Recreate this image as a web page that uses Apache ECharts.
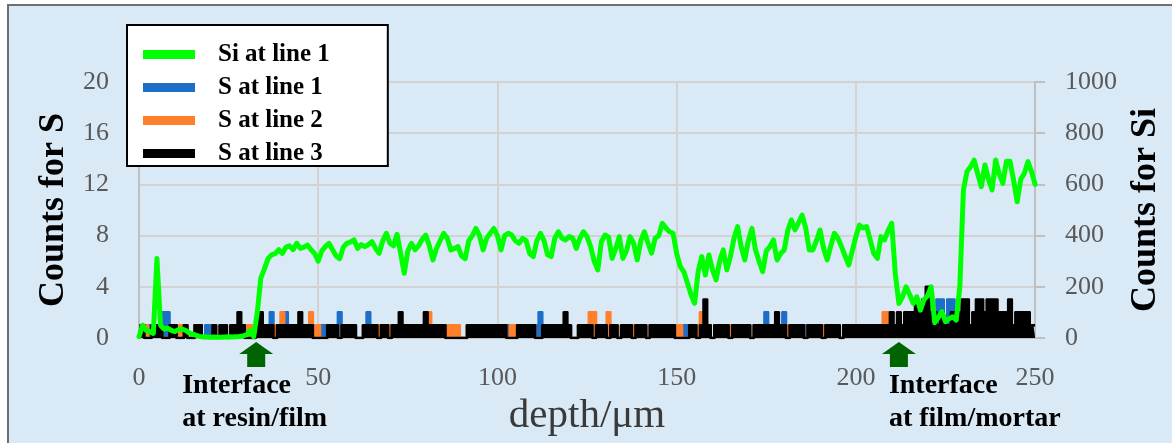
<!DOCTYPE html>
<html><head><meta charset="utf-8">
<script src="https://cdn.jsdelivr.net/npm/echarts@6/dist/echarts.min.js"></script>
<style>html,body{margin:0;padding:0;background:#fff}#c{width:1172px;height:443px}</style>
</head><body><div id="c"></div>
<script>
// ---- data ----
const depthStepUm = 1;                 // sample spacing along depth
const xTickValues = [0, 50, 100, 150, 200, 250];
const seriesNames = ['Si at line 1', 'S at line 1', 'S at line 2', 'S at line 3'];

const siLine1 = [
  5,50,30,25,18,311,50,35,38,30,
  25,32,35,30,20,15,10,6,5,4,
  3,4,3,3,4,5,4,5,6,8,
  12,30,5,100,235,270,310,325,330,345,
  330,355,360,345,370,350,355,363,345,330,
  300,340,357,370,345,320,310,355,370,375,
  383,350,365,357,365,376,350,331,380,409,
  370,360,405,330,253,340,370,344,360,385,
  402,360,305,350,380,409,390,344,350,357,
  320,310,380,400,428,400,344,390,409,428,
  400,344,400,409,402,380,370,389,380,330,
  318,380,409,380,325,318,390,415,390,383,
  396,390,350,390,415,396,357,300,266,376,
  402,395,311,350,396,311,340,396,370,305,
  380,415,370,331,390,400,448,430,415,409,
  330,279,259,215,170,136,260,318,246,324,
  266,227,300,344,266,318,390,435,357,305,
  380,428,344,300,259,340,357,383,305,330,
  344,420,461,422,450,480,430,344,344,380,
  422,350,305,360,409,390,357,320,285,340,
  396,441,430,435,383,330,311,396,383,420,
  448,250,135,160,200,170,135,161,109,150,
  165,200,60,80,103,64,75,83,70,200,
  578,650,669,695,640,591,676,620,578,695,
  640,604,690,690,617,532,620,643,689,650,600
];

const sLine1 = [
  1,1,0,1,1,1,1,2,2,1,
  1,0,0,1,0,0,1,1,0,1,
  1,1,0,1,1,0,1,1,1,1,
  0,0,0,1,1,1,1,2,0,1,
  1,2,1,1,1,1,1,1,1,0,
  0,1,1,1,1,1,2,1,1,1,
  1,0,0,1,2,1,1,0,1,1,
  0,1,1,1,1,1,1,1,1,1,
  1,1,1,1,1,1,0,0,0,0,
  0,0,1,1,1,1,1,1,1,1,
  1,1,1,1,0,0,1,1,1,1,
  1,1,2,1,1,1,1,1,1,1,
  1,0,0,1,1,1,1,1,1,1,
  1,1,1,1,0,1,1,1,0,1,
  1,1,0,1,1,1,1,1,1,1,
  0,0,1,1,1,1,0,1,1,1,
  0,1,1,1,1,0,1,1,1,1,
  1,0,1,1,1,2,1,1,1,1,
  2,0,1,1,1,1,1,1,1,1,
  1,0,1,1,1,1,0,1,1,1,
  1,1,1,1,1,1,1,1,1,1,
  1,1,1,1,1,1,1,1,1,1,
  1,1,1,3,3,1,3,3,1,1,
  1,1,1,1,1,1,1,1,1,1,
  1,1,1,1,1,1,1,1,1,1,1
];

const sLine2 = [
  0,1,1,0,1,1,1,0,0,1,
  1,1,1,1,0,0,1,1,0,0,
  0,1,0,1,1,0,1,1,1,1,
  1,1,0,1,1,1,1,1,1,1,
  2,1,1,1,1,1,1,1,2,1,
  1,0,0,1,1,1,0,1,1,1,
  1,0,0,1,1,1,1,1,1,1,
  1,1,1,1,1,1,1,1,1,1,
  1,2,1,1,1,1,1,1,1,1,
  0,0,1,1,1,1,1,1,1,1,
  1,1,1,0,1,1,1,1,1,1,
  1,0,0,1,1,1,1,1,1,1,
  1,0,0,1,1,1,2,2,1,1,
  1,2,1,1,0,1,1,1,1,1,
  1,1,0,1,1,1,1,1,1,1,
  1,1,0,0,1,1,1,2,1,1,
  0,1,1,1,1,1,1,1,1,1,
  1,0,1,1,1,1,1,1,1,1,
  1,1,1,1,1,1,0,1,1,1,
  1,1,1,1,1,1,0,1,1,1,
  1,1,1,1,1,1,1,1,2,2,
  1,1,1,1,1,1,1,1,1,1,
  1,1,1,1,1,1,1,1,1,1,
  1,1,1,1,1,1,1,1,1,1,
  1,1,1,1,1,1,1,1,1,1,1
];

const sLine3 = [
  0,1,0,0,1,1,1,0,0,1,
  1,0,0,1,0,0,1,1,0,0,
  0,1,0,1,1,0,1,1,2,1,
  0,0,0,1,2,1,1,1,0,1,
  1,1,1,1,1,2,1,1,1,0,
  0,0,0,1,1,1,0,1,1,1,
  1,0,0,1,1,1,1,0,1,1,
  0,1,1,2,1,1,1,1,1,1,
  2,1,1,1,1,1,0,0,0,0,
  0,0,1,1,1,1,1,1,1,1,
  1,1,1,0,0,0,1,1,1,1,
  1,0,0,1,1,1,1,1,1,2,
  1,0,0,1,1,1,1,0,1,1,
  1,0,1,1,0,1,1,1,0,1,
  1,1,0,1,1,1,1,1,1,1,
  0,0,0,0,1,1,0,1,3,1,
  0,1,1,1,1,0,1,1,1,1,
  1,0,1,1,1,1,1,1,2,1,
  1,0,1,1,1,1,0,1,1,1,
  1,0,1,1,1,1,0,1,1,1,
  1,1,1,1,1,1,1,1,1,1,
  2,1,2,1,2,2,2,3,2,3,
  4,2,2,1,2,1,1,2,2,2,
  3,3,1,2,3,3,2,3,3,3,
  2,2,2,3,1,2,2,2,2,1,1
];

const interfaceDepths = [32.7, 212];
const interfaceLabels = ['Interface\nat resin/film', 'Interface\nat film/mortar'];

// ---- chart ----
const FONT = 'Liberation Serif';
const toPairs = arr => arr.map((v, i) => [i * depthStepUm, v]);
const colors = { si: '#00ff00', s1: '#1c6ec8', s2: '#ff7f2a', s3: '#000000' };
const chart = echarts.init(document.getElementById('c'), null, { renderer: 'canvas' });

function sSeries(name, arr, color, z) {
  return {
    name, type: 'line', yAxisIndex: 0, data: toPairs(arr), step: 'middle', z,
    symbol: 'none', color, lineStyle: { width: 2.6, color, join: 'round' },
    areaStyle: { color, opacity: 1 }, animation: false
  };
}

const axisGray = '#bfbfbf';
const gridGray = '#d2d2d2';
const labelStyle = { color: '#595959', fontSize: 26, fontFamily: FONT, formatter: v => String(v) };

chart.setOption({
  animation: false,
  backgroundColor: '#ffffff',
  grid: { left: 139, right: 132, top: 82, bottom: 105 },
  legend: {
    data: [seriesNames[0], seriesNames[1], seriesNames[2], seriesNames[3]],
    orient: 'vertical', left: 127, top: 25,
    icon: 'rect', itemWidth: 52, itemHeight: 9, itemGap: 8,
    padding: [17, 58, 0, 16],
    backgroundColor: '#ffffff', borderColor: '#000000', borderWidth: 2,
    textStyle: { fontFamily: FONT, fontSize: 25, fontWeight: 'bold', color: '#000', lineHeight: 25, padding: [0, 0, 0, 18] }
  },
  xAxis: {
    type: 'value', min: xTickValues[0], max: xTickValues[xTickValues.length - 1],
    interval: xTickValues[1] - xTickValues[0],
    axisLine: { show: true, lineStyle: { color: axisGray, width: 2 } },
    axisTick: { show: false },
    axisLabel: Object.assign({ margin: 27 }, labelStyle),
    splitLine: { show: true, lineStyle: { color: gridGray, width: 2 } },
    name: 'depth/μm', nameLocation: 'middle', nameGap: 50,
    nameTextStyle: { fontFamily: FONT, fontSize: 41, color: '#3a3a3a' }
  },
  yAxis: [
    {
      type: 'value', min: 0, max: 20, interval: 4, position: 'left',
      axisLine: { show: true, lineStyle: { color: axisGray, width: 2 } },
      axisTick: { show: false },
      axisLabel: Object.assign({ margin: 30 }, labelStyle),
      splitLine: { show: true, lineStyle: { color: gridGray, width: 2 } },
      name: 'Counts for S', nameLocation: 'middle', nameRotate: 90, nameGap: 67,
      nameTextStyle: { fontFamily: FONT, fontSize: 36, fontWeight: 'bold', color: '#000' }
    },
    {
      type: 'value', min: 0, max: 1000, interval: 200, position: 'right',
      axisLine: { show: true, lineStyle: { color: axisGray, width: 2 } },
      axisTick: { show: true, length: 10, lineStyle: { color: axisGray, width: 2 } },
      axisLabel: Object.assign({ margin: 30 }, labelStyle),
      splitLine: { show: false },
      name: 'Counts for Si', nameLocation: 'middle', nameRotate: 90, nameGap: 86,
      nameTextStyle: { fontFamily: FONT, fontSize: 36, fontWeight: 'bold', color: '#000' }
    }
  ],
  series: [
    sSeries(seriesNames[1], sLine1, colors.s1, 2),
    sSeries(seriesNames[2], sLine2, colors.s2, 3),
    sSeries(seriesNames[3], sLine3, colors.s3, 4),
    {
      name: seriesNames[0], type: 'line', yAxisIndex: 1, data: toPairs(siLine1),
      symbol: 'none', color: colors.si,
      lineStyle: { width: 5, color: colors.si, join: 'round', cap: 'round' }, z: 6
    }
  ]
});

// frame + annotations placed through the axis scales
const textOffsets = [-74, -10];
const graphics = [{
  type: 'rect', z: -100, silent: true,
  shape: { x: 8, y: 5, width: 1200, height: 500 },
  style: { fill: '#d9e9f5', stroke: '#6f6f6f', lineWidth: 2 }
}];
interfaceDepths.forEach((d, i) => {
  const [px, py] = chart.convertToPixel({ xAxisIndex: 0, yAxisIndex: 0 }, [d, 0]);
  graphics.push({
    type: 'polygon', z: 100,
    shape: { points: [[px, py + 4], [px + 17, py + 16], [px + 9, py + 16], [px + 9, py + 29],
                      [px - 9, py + 29], [px - 9, py + 16], [px - 17, py + 16]] },
    style: { fill: '#006400' }
  });
  graphics.push({
    type: 'text', z: 100, x: px + textOffsets[i], y: py + 31,
    style: { text: interfaceLabels[i], fontFamily: FONT, fontSize: 28, fontWeight: 'bold',
             fill: '#000', lineHeight: 33, verticalAlign: 'top', align: 'left' }
  });
});
chart.setOption({ graphic: graphics });
</script>
</body></html>
